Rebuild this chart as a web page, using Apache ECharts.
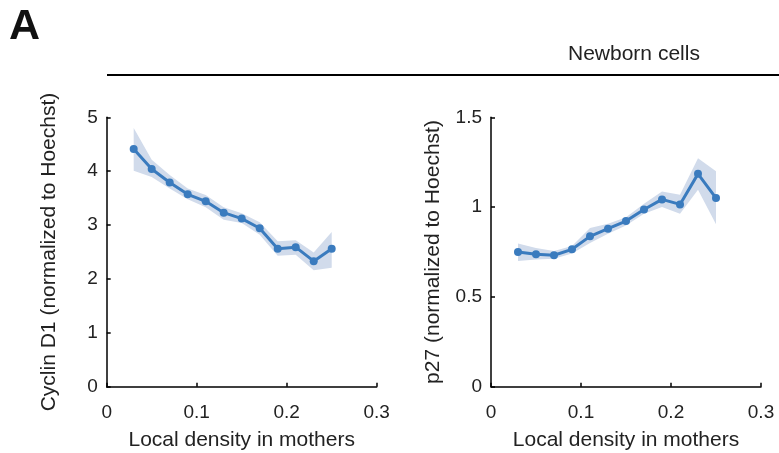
<!DOCTYPE html>
<html>
<head>
<meta charset="utf-8">
<script src="https://cdn.jsdelivr.net/npm/echarts@6/dist/echarts.min.js"></script>
<style>
  html, body { margin: 0; padding: 0; background: #fff; }
  #chart { width: 779px; height: 453px; }
</style>
</head>
<body>
<div id="chart"></div>
<script>
// Local density bins (x values shared by both panels)
const density = [0.03, 0.05, 0.07, 0.09, 0.11, 0.13, 0.15, 0.17, 0.19, 0.21, 0.23, 0.25];

// Cyclin D1: mean and confidence band
const cyclinMean  = [4.41, 4.04, 3.79, 3.57, 3.44, 3.23, 3.12, 2.94, 2.56, 2.59, 2.33, 2.56];
const cyclinUpper = [4.80, 4.21, 3.93, 3.68, 3.56, 3.33, 3.22, 3.05, 2.70, 2.72, 2.49, 2.87];
const cyclinLower = [4.01, 3.89, 3.68, 3.48, 3.33, 3.10, 3.04, 2.82, 2.43, 2.45, 2.16, 2.21];

// p27: mean and confidence band
const p27Mean  = [0.750, 0.737, 0.732, 0.765, 0.837, 0.880, 0.922, 0.987, 1.043, 1.015, 1.185, 1.050];
const p27Upper = [0.797, 0.772, 0.756, 0.783, 0.883, 0.907, 0.944, 1.019, 1.087, 1.069, 1.272, 1.200];
const p27Lower = [0.700, 0.708, 0.713, 0.741, 0.800, 0.852, 0.898, 0.963, 1.000, 0.963, 1.097, 0.904];

// Tick labels
const xTicks = ['0', '0.1', '0.2', '0.3'];
const cyclinTicks = ['0', '1', '2', '3', '4', '5'];
const p27Ticks = ['0', '0.5', '1', '1.5'];

const LINE = '#3a7bbe';
const BAND = '#d1dbeb';
const FONT = 'Liberation Sans, Arial, sans-serif';
const INK = '#222';

const pairs = (xs, ys) => xs.map((x, i) => [x, ys[i]]);

function xAxis(gridIndex) {
  return {
    type: 'value', gridIndex, min: 0, max: 0.3, interval: 0.1,
    name: 'Local density in mothers', nameLocation: 'middle', nameGap: 43,
    nameTextStyle: { color: INK, fontSize: 21, fontFamily: FONT },
    axisLine: { show: true, lineStyle: { color: '#000', width: 1.5 } },
    axisTick: { show: true, inside: true, length: 4, lineStyle: { color: '#000', width: 1.5 } },
    axisLabel: { color: INK, fontSize: 19, fontFamily: FONT, margin: 17,
      formatter: v => xTicks[Math.round(v / 0.1)] },
    splitLine: { show: false }
  };
}

function yAxis(gridIndex, max, interval, name, ticks) {
  return {
    type: 'value', gridIndex, min: 0, max, interval,
    name, nameLocation: 'middle', nameGap: 47,
    nameTextStyle: { color: INK, fontSize: 21, fontFamily: FONT },
    axisLine: { show: true, lineStyle: { color: '#000', width: 1.5 } },
    axisTick: { show: true, inside: true, length: 4, lineStyle: { color: '#000', width: 1.5 } },
    axisLabel: { color: INK, fontSize: 19, fontFamily: FONT, margin: 9,
      formatter: v => ticks[Math.round(v / interval)] },
    splitLine: { show: false }
  };
}

// Shaded band: polygon along the upper bound, back along the lower bound
function band(idx, upper, lower) {
  return {
    type: 'custom', xAxisIndex: idx, yAxisIndex: idx, data: [0], silent: true, z: 1,
    renderItem: (params, api) => {
      const pts = [];
      density.forEach((x, i) => pts.push(api.coord([x, upper[i]])));
      for (let i = density.length - 1; i >= 0; i--) pts.push(api.coord([density[i], lower[i]]));
      return { type: 'polygon', shape: { points: pts }, style: { fill: BAND } };
    }
  };
}

function meanLine(idx, mean) {
  return {
    type: 'line', xAxisIndex: idx, yAxisIndex: idx, data: pairs(density, mean),
    symbol: 'circle', symbolSize: 8, lineStyle: { color: LINE, width: 3 },
    itemStyle: { color: LINE }, z: 3
  };
}

const chart = echarts.init(document.getElementById('chart'), null, { renderer: 'canvas' });
chart.setOption({
  animation: false,
  backgroundColor: '#fff',
  grid: [
    { left: 106.7, right: 402.3, top: 117.3, bottom: 66.3, containLabel: false, outerBoundsMode: 'none' },
    { left: 491, right: 18, top: 117.3, bottom: 66.3, containLabel: false, outerBoundsMode: 'none' }
  ],
  xAxis: [xAxis(0), xAxis(1)],
  yAxis: [
    yAxis(0, 5, 1, 'Cyclin D1 (normalized to Hoechst)', cyclinTicks),
    yAxis(1, 1.5, 0.5, 'p27 (normalized to Hoechst)', p27Ticks)
  ],
  series: [
    band(0, cyclinUpper, cyclinLower),
    meanLine(0, cyclinMean),
    band(1, p27Upper, p27Lower),
    meanLine(1, p27Mean)
  ],
  graphic: [
    { type: 'text', x: 9, y: 27,
      style: { text: 'A', fill: '#111', font: 'bold 43px ' + FONT, verticalAlign: 'middle' } },
    { type: 'text', x: 568, y: 54,
      style: { text: 'Newborn cells', fill: INK, font: '21px ' + FONT, verticalAlign: 'middle' } },
    { type: 'line', shape: { x1: 107, y1: 75, x2: 779, y2: 75 },
      style: { stroke: '#000', lineWidth: 2 } }
  ]
});
</script>
</body>
</html>
